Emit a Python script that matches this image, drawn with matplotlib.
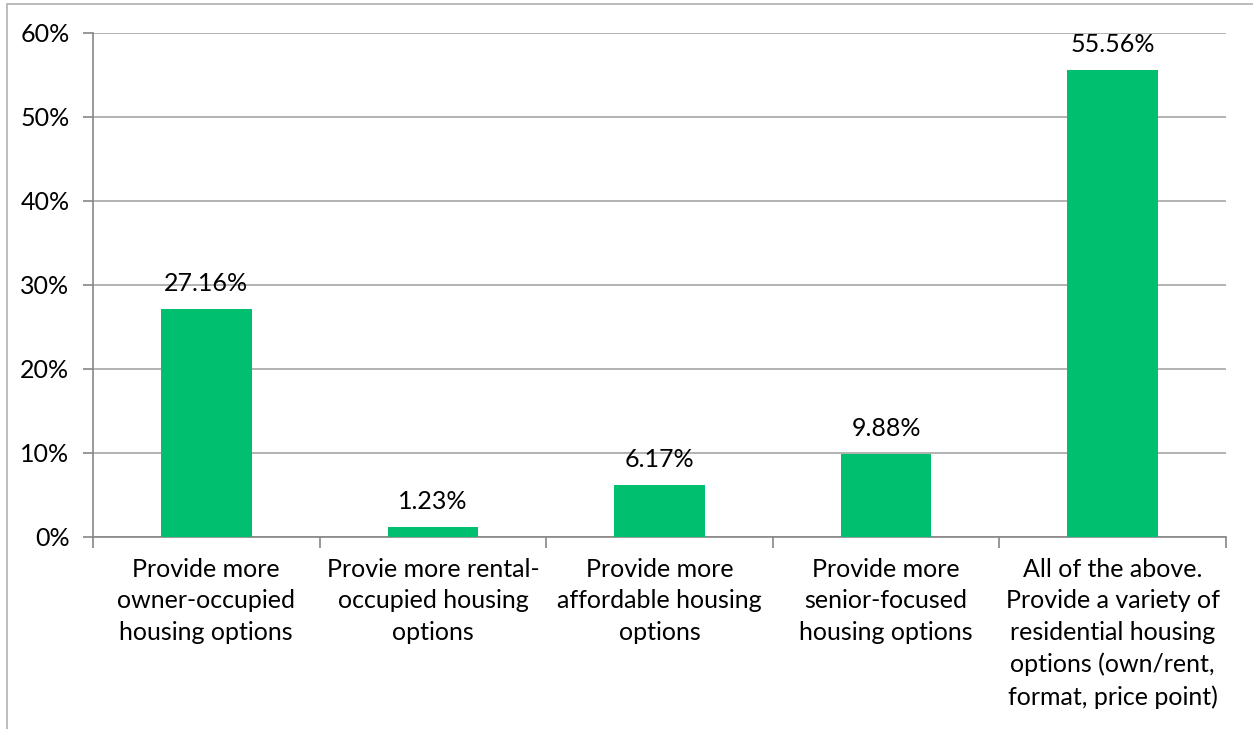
import numpy as np
import matplotlib.pyplot as plt
from matplotlib.patches import Rectangle
from matplotlib.ticker import PercentFormatter

categories = [
    "Provide more\nowner-occupied\nhousing options",
    "Provie more rental-\noccupied housing\noptions",
    "Provide more\naffordable housing\noptions",
    "Provide more\nsenior-focused\nhousing options",
    "All of the above.\nProvide a variety of\nresidential housing\noptions (own/rent,\nformat, price point)",
]
values = [27.16, 1.23, 6.17, 9.88, 55.56]
yticks = [0, 10, 20, 30, 40, 50, 60]

plt.rcParams['font.family'] = ['Lato', 'DejaVu Sans']

fig = plt.figure(figsize=(12.53, 7.29), dpi=100)
W, H = 1253, 729
ax = fig.add_axes([93 / W, 1 - 537 / H, (1226 - 93) / W, (537 - 33) / H])

# outer chart frame
fig.patches.append(Rectangle((7 / W, -0.1), 1.2, 1 - 4 / H + 0.1,
                             transform=fig.transFigure, fill=False,
                             edgecolor='#b0b0b0', linewidth=1.2))

x = np.arange(len(values))
ax.bar(x, values, width=0.4, color='#00bf6f', zorder=3)
for xi, v in zip(x, values):
    ax.annotate(f"{v:.2f}%", (xi, v), xytext=(0, 10), textcoords='offset points',
                ha='center', va='bottom', fontsize=18)

ax.set_xlim(-0.5, len(values) - 0.5)
ax.set_ylim(0, 60)
ax.set_yticks(yticks)
ax.yaxis.set_major_formatter(PercentFormatter(decimals=0))
ax.grid(axis='y', color='#a6a6a6', linewidth=1.2, zorder=0)

ax.set_xticks(x)
ax.set_xticklabels(categories, fontsize=18, linespacing=1.45)
ax.set_xticks(np.arange(len(values) + 1) - 0.5, minor=True)
ax.tick_params(axis='x', which='major', length=0, pad=15)
ax.tick_params(axis='x', which='minor', length=8, color='#868686', width=1.2)
ax.tick_params(axis='y', length=7, color='#868686', width=1.2, labelsize=18, pad=10)

for s in ['top', 'right']:
    ax.spines[s].set_visible(False)
for s in ['left', 'bottom']:
    ax.spines[s].set_color('#868686')
    ax.spines[s].set_linewidth(1.2)

fig.savefig('out.png', dpi=100)
